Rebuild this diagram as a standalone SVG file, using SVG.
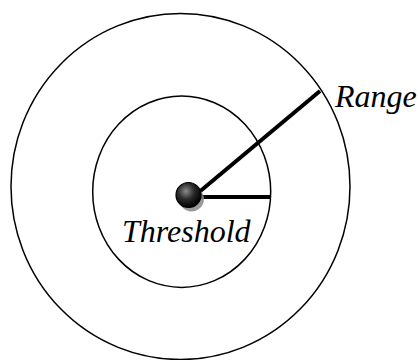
<svg xmlns="http://www.w3.org/2000/svg" width="417" height="360" viewBox="0 0 417 360">
<style>
.ring{fill:none;stroke:#000;stroke-width:1.5}
.bar{stroke:#000;stroke-width:4;stroke-linecap:butt}
.lbl{font-family:"Liberation Serif","Times New Roman",serif;font-style:italic;font-size:32px;fill:#000}
</style>
<defs>
<radialGradient id="ball" cx="0.4" cy="0.35" r="0.65">
<stop offset="0" stop-color="#8a8a8a"/>
<stop offset="0.5" stop-color="#2a2a2a"/>
<stop offset="1" stop-color="#000"/>
</radialGradient>
</defs>
<g id="outer"><ellipse class="ring" cx="180.5" cy="186.5" rx="169.5" ry="173"/></g>
<g id="inner"><ellipse class="ring" cx="181.7" cy="191.7" rx="89" ry="95.7"/></g>
<g id="connectors">
<line class="bar" x1="189" y1="197" x2="271" y2="197"/>
<line class="bar" x1="198" y1="193" x2="320" y2="91"/>
</g>
<g id="center">
<circle cx="191.5" cy="199" r="12.5" fill="#888" opacity="0.85"/>
<circle cx="188.5" cy="195" r="12.5" fill="url(#ball)" stroke="#000" stroke-width="1.2"/>
</g>
<g id="labels">
<text class="lbl" x="335" y="107">Range</text>
<text class="lbl" x="122" y="242">Threshold</text>
</g>
</svg>
